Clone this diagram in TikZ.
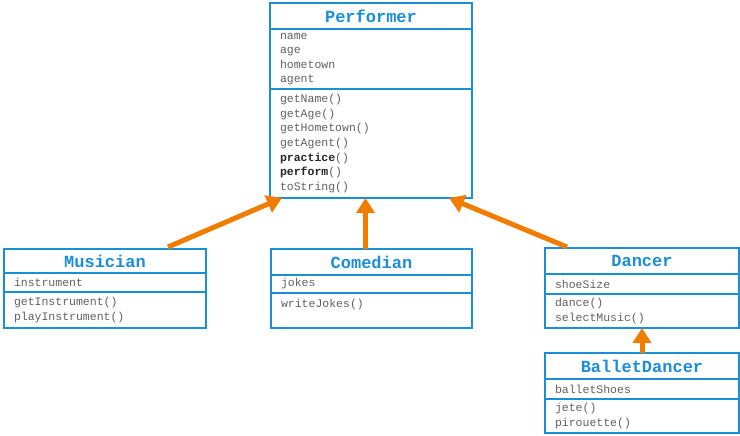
\documentclass[tikz,border=0pt]{standalone}
\usepackage{fontspec}
\newfontfamily\umlmono{Liberation Mono}
\usetikzlibrary{arrows.meta}
\usetikzlibrary{positioning}

\definecolor{umlblue}{HTML}{1A8FD6}
\definecolor{membergray}{HTML}{606060}
\definecolor{inheritorange}{HTML}{F07C00}

\tikzset{
    titlebox/.style={
        rectangle, anchor=north west, inner sep=0pt, outer sep=0pt,
        draw=umlblue, line width=2pt, fill=white,
        text=umlblue, font=\umlmono\fontsize{17}{20}\selectfont\bfseries,
    },
    partbox/.style={
        rectangle, anchor=north west, inner xsep=10pt, inner ysep=2pt, outer sep=0pt,
        draw=umlblue, line width=2pt, fill=white,
        align=left, text=membergray,
        font=\umlmono\fontsize{11.5}{14.6}\selectfont,
    },
    inherit/.style={
        draw=inheritorange, line width=5pt,
        -{Triangle[width=18pt,length=15pt]},
    },
}
\newcommand{\abstractop}[1]{\textcolor{black!85}{\bfseries #1}()}

\begin{document}
\begin{tikzpicture}[x=1pt, y=-1pt]
    \useasboundingbox (0,0) rectangle (740,436);

    % Performer
    \node (perfT) at(270,3) [titlebox, minimum width=202pt, minimum height=26pt] {Performer};
    \node (perfA) at(perfT.south west) [partbox, text width=182pt, minimum height=60pt]
        {name\\age\\hometown\\agent};
    \node (perfM) at(perfA.south west) [partbox, text width=182pt, minimum height=109pt]
        {getName()\\getAge()\\getHometown()\\getAgent()\\\abstractop{practice}\\\abstractop{perform}\\toString()};

    % Musician
    \node (musT) at(4,249) [titlebox, minimum width=202pt, minimum height=24pt] {Musician};
    \node (musA) at(musT.south west) [partbox, text width=182pt, minimum height=19pt]
        {instrument};
    \node (musM) at(musA.south west) [partbox, text width=182pt, minimum height=36pt]
        {getInstrument()\\playInstrument()};

    % Comedian
    \node (comT) at(271,249) [titlebox, minimum width=201pt, minimum height=26pt] {Comedian};
    \node (comA) at(comT.south west) [partbox, text width=181pt, minimum height=18pt]
        {jokes};
    \node (comM) at(comA.south west) [partbox, text width=181pt, minimum height=35pt]
        {writeJokes()\\\mbox{}};

    % Dancer
    \node (danT) at(545,248) [titlebox, minimum width=194pt, minimum height=26pt] {Dancer};
    \node (danA) at(danT.south west) [partbox, text width=174pt, minimum height=20pt]
        {shoeSize};
    \node (danM) at(danA.south west) [partbox, text width=174pt, minimum height=34pt]
        {dance()\\selectMusic()};

    % BalletDancer
    \node (balT) at(545,353) [titlebox, minimum width=194pt, minimum height=26pt] {BalletDancer};
    \node (balA) at(balT.south west) [partbox, text width=174pt, minimum height=20pt]
        {balletShoes};
    \node (balM) at(balA.south west) [partbox, text width=174pt, minimum height=34pt]
        {jete()\\pirouette()};

    % inheritance
    \draw[inherit] ([xshift=-38pt,yshift=2pt]musT.north east) -- ([xshift=12pt]perfM.south west);
    \draw[inherit] ([xshift=-6pt]comT.north) -- ([xshift=-6pt]comT.north |- perfM.south);
    \draw[inherit] ([xshift=22pt,yshift=1pt]danT.north west) -- ([xshift=-23pt]perfM.south east);
    \draw[inherit] (balT.north) -- (danM.south);
\end{tikzpicture}
\end{document}
